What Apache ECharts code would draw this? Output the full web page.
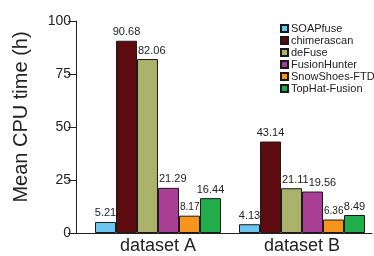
<!DOCTYPE html>
<html>
<head>
<meta charset="utf-8">
<script src="https://cdn.jsdelivr.net/npm/echarts@6/dist/echarts.min.js"></script>
<style>
  html, body { margin: 0; padding: 0; background: #fff; }
  #chart { width: 374px; height: 256px; }
</style>
</head>
<body>
<div id="chart"></div>
<script>
var datasets = ['dataset A', 'dataset B'];
var tools = ['SOAPfuse', 'chimerascan', 'deFuse', 'FusionHunter', 'SnowShoes-FTD', 'TopHat-Fusion'];
var toolColors = ['#6cc7f0', '#5e0b10', '#abb26c', '#a83f95', '#f6941e', '#22ad4b'];
var soapfuse = [5.21, 4.13];
var chimerascan = [90.68, 43.14];
var defuse = [82.06, 21.11];
var fusionhunter = [21.29, 19.56];
var snowshoes = [8.17, 6.36];
var tophat = [16.44, 8.49];
var yTicks = [0, 25, 50, 75, 100];

var values = [soapfuse, chimerascan, defuse, fusionhunter, snowshoes, tophat];
var font = 'Liberation Sans, Arial, sans-serif';
var labelDistance = 3;

function labelSize(seriesIndex) {
  return tools[seriesIndex] == 'SnowShoes-FTD' ? 10 : 11;
}

var ctx = document.createElement('canvas').getContext('2d');
function textWidth(text, size) {
  ctx.font = size + 'px ' + font;
  return ctx.measureText(text).width;
}

// 记录同一分组里前一根柱子和它的标签, 标签被挡住时向右挪
var lastItem = {};
function avoidOverlap(params) {
  var idx = params.dataIndex;
  if (params.seriesIndex === 0) {
    lastItem[idx] = null;
  }
  var bar = params.rect;
  var barTop = Math.min(bar.y, bar.y + bar.height);
  var barLeft = Math.min(bar.x, bar.x + bar.width);
  var barW = Math.abs(bar.width);
  var size = labelSize(params.seriesIndex);
  var w = textWidth(params.text, size);
  var left = barLeft + barW / 2 - w / 2;
  var bottom = barTop - labelDistance;
  var top = bottom - size;

  var prev = lastItem[idx];
  var minX = -Infinity;
  if (prev) {
    if (prev.barTop < bottom) {
      minX = prev.barRight + 1;
    }
    if (prev.labelTop < bottom && prev.labelBottom > top) {
      minX = Math.max(minX, prev.labelRight);
    }
  }
  var dx = Math.max(0, minX - left);
  lastItem[idx] = {
    barTop: barTop,
    barRight: barLeft + barW,
    labelTop: top,
    labelBottom: bottom,
    labelRight: left + dx + w
  };
  return { dx: dx };
}

var series = [];
tools.forEach(function (name, i) {
  series.push({
    name: name,
    type: 'bar',
    xAxisIndex: 1,
    yAxisIndex: 1,
    barWidth: 21,
    barGap: 0,
    data: values[i],
    itemStyle: { color: toolColors[i], borderColor: '#1a1a1a', borderWidth: 1 },
    label: {
      show: true,
      position: 'top',
      distance: labelDistance,
      color: '#222',
      fontFamily: font,
      fontSize: labelSize(i)
    },
    labelLayout: avoidOverlap
  });
});

var myChart = echarts.init(document.getElementById('chart'));
var option = {
  animation: false,
  textStyle: { fontFamily: font },
  grid: [
    { left: 76, right: 2, top: 21, bottom: 23 },
    { left: 86, width: 293, top: 21, bottom: 23 }
  ],
  legend: {
    orient: 'vertical',
    left: 280,
    top: 23,
    padding: 0,
    itemWidth: 7,
    itemHeight: 7,
    itemGap: 1,
    icon: 'rect',
    data: tools,
    textStyle: { fontSize: 11, color: '#222', fontFamily: font, padding: [0, 0, 0, -2] }
  },
  xAxis: [
    {
      gridIndex: 0, type: 'value', min: 0, max: 1,
      axisLine: { show: true, lineStyle: { color: '#222', width: 1 } },
      axisTick: { show: false }, axisLabel: { show: false }, splitLine: { show: false }
    },
    {
      gridIndex: 1, type: 'category', data: datasets,
      axisLine: { show: false }, axisTick: { show: false },
      axisLabel: { fontSize: 18, color: '#222', margin: 4, fontFamily: font }
    }
  ],
  yAxis: [
    {
      gridIndex: 0, type: 'value', min: 0, max: 100, interval: 25,
      name: 'Mean CPU time (h)',
      nameLocation: 'middle',
      nameGap: 45,
      nameTextStyle: { fontSize: 20, color: '#222', fontFamily: font, padding: [0, 0, 0, 20] },
      axisLine: { show: true, lineStyle: { color: '#222', width: 1 } },
      axisTick: { show: true, length: 8, lineStyle: { color: '#222' } },
      axisLabel: { fontSize: 14, color: '#222', margin: 5, fontFamily: font,
        customValues: yTicks },
      splitLine: { show: false }
    },
    { gridIndex: 1, type: 'value', min: 0, max: 100, show: false }
  ],
  series: series
};
myChart.setOption(option);
</script>
</body>
</html>
